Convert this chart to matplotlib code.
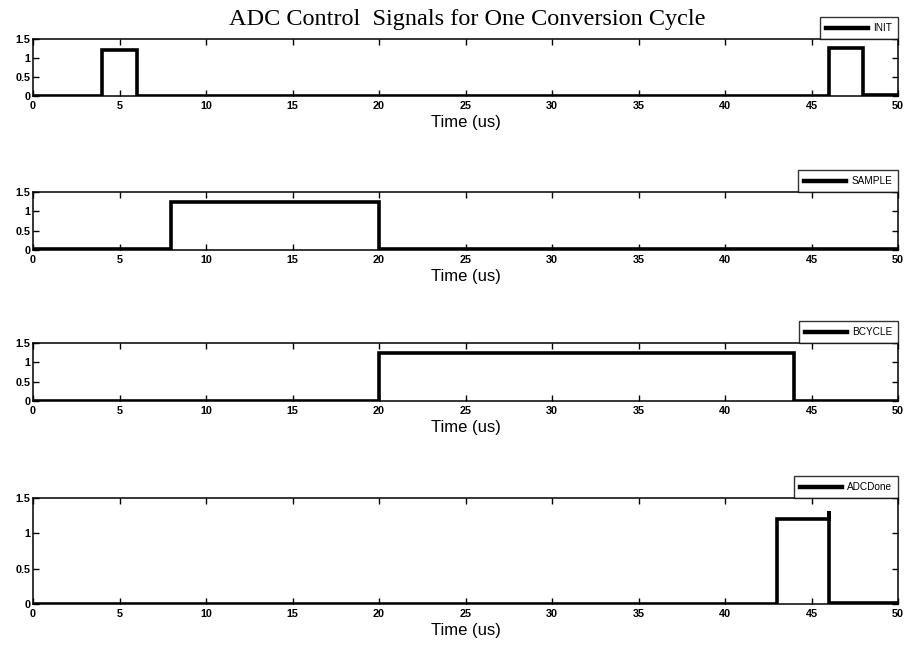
import matplotlib
matplotlib.use("Agg")
import matplotlib.pyplot as plt

# Step waveforms: (time in us, level)
init_t = [0, 4, 4, 6, 6, 46, 46, 48, 48, 50]
init_v = [0, 0, 1.2, 1.2, 0, 0, 1.27, 1.27, 0.03, 0.03]

sample_t = [0, 8, 8, 20, 20, 50]
sample_v = [0.02, 0.02, 1.25, 1.25, 0.03, 0.03]

bcycle_t = [0, 20, 20, 44, 44, 50]
bcycle_v = [0, 0, 1.25, 1.25, 0, 0]

adcdone_t = [0, 43, 43, 46, 46, 46, 50]
adcdone_v = [0, 0, 1.2, 1.2, 1.32, 0.02, 0.02]

names = ["INIT", "SAMPLE", "BCYCLE", "ADCDone"]
series = [(init_t, init_v), (sample_t, sample_v), (bcycle_t, bcycle_v), (adcdone_t, adcdone_v)]

xticks = [0, 5, 10, 15, 20, 25, 30, 35, 40, 45, 50]
yticks = [0, 0.5, 1, 1.5]
ytick_labels = ["0", "0.5", "1", "1.5"]

W, H = 909, 651
fig = plt.figure(figsize=(W / 100, H / 100), dpi=100)

# axes boxes in pixel coordinates: (top, bottom)
left_px, right_px = 33, 898
rows = [(39, 96), (192, 250), (343, 401), (498, 604)]

for (top, bot), name, (t, v) in zip(rows, names, series):
    ax = fig.add_axes([left_px / W, 1 - bot / H, (right_px - left_px) / W, (bot - top) / H])
    ax.plot(t, v, color="black", lw=2.6, label=name, solid_joinstyle="miter")
    ax.set_xlim(0, 50)
    ax.set_ylim(0, 1.5)
    ax.set_xticks(xticks)
    ax.set_xticklabels([str(x) for x in xticks], fontsize=7.8, family="Liberation Sans",
                       fontweight="bold")
    ax.set_yticks(yticks)
    ax.set_yticklabels(ytick_labels, fontsize=7.8, family="Liberation Sans",
                       fontweight="bold")
    ax.tick_params(direction="in", top=True, right=True, length=4, width=1)
    ax.tick_params(axis="x", pad=3.5)
    ax.tick_params(axis="y", pad=2)
    for s in ax.spines.values():
        s.set_linewidth(1.1)
    ax.set_xlabel("Time (us)", fontsize=12, family="Liberation Sans", labelpad=3)
    leg = ax.legend(loc="lower right", bbox_to_anchor=(1.0, 1.0),
                    prop={"family": "Liberation Sans", "size": 7.2},
                    frameon=True, fancybox=False, edgecolor="black",
                    borderaxespad=0, handlelength=4.2, borderpad=0.6, handletextpad=0.5)
    leg.get_frame().set_linewidth(1.0)
    leg.get_lines()[0].set_linewidth(3.2)

fig.text(0.514, 1 - 19 / H, "ADC Control  Signals for One Conversion Cycle",
         ha="center", va="center", fontsize=17.5, family="Liberation Serif")

fig.savefig("out.png", dpi=100, facecolor="white")
